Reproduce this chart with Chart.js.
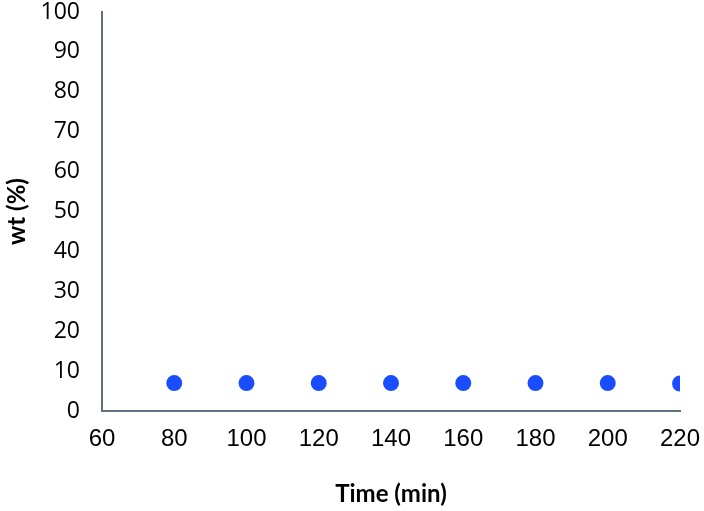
<!DOCTYPE html>
<html>
<head>
<meta charset="utf-8">
<script src="https://cdn.jsdelivr.net/npm/chart.js@4.4.0/dist/chart.umd.min.js"></script>
<style>
  html, body { margin: 0; padding: 0; background: #fff; }
  #wrap { width: 704px; height: 511px; }
</style>
</head>
<body>
<div id="wrap"><canvas id="chart" width="704" height="511"></canvas></div>
<script>
// sampling times and measured wt%
var times = [80, 100, 120, 140, 160, 180, 200, 220];
var wt = [7, 7, 7, 7, 7, 7, 7, 6.9];

var axisColor = '#5f717c';

var points = times.map(function (t, i) { return { x: t, y: wt[i] }; });

var config = {
  type: 'scatter',
  data: {
    datasets: [{
      data: points,
      backgroundColor: '#1a4dff',
      borderColor: '#1a4dff',
      pointRadius: 8,
      pointHoverRadius: 8,
      borderWidth: 0
    }]
  },
  options: {
    responsive: false,
    animation: false,
    layout: { padding: { top: 12, right: 24, bottom: 2, left: 0 } },
    plugins: {
      legend: { display: false },
      tooltip: { enabled: false }
    },
    scales: {
      x: {
        type: 'linear',
        min: 60,
        max: 220,
        grid: { display: false, drawTicks: false },
        border: { display: true, color: axisColor, width: 2 },
        ticks: {
          stepSize: 20,
          color: '#000',
          padding: 14,
          maxRotation: 0,
          font: { family: 'Liberation Sans', size: 24 }
        },
        title: {
          display: true,
          text: 'Time (min)',
          color: '#000',
          padding: { top: 0, bottom: 0 },
          font: { family: 'Lato', size: 24, weight: 'bold' }
        },
        afterFit: function (scale) {
          scale.height = 98;
          scale.paddingLeft = 0;
          scale.paddingRight = 0;
        }
      },
      y: {
        min: 0,
        max: 100,
        grid: { display: false, drawTicks: false },
        border: { display: true, color: axisColor, width: 2 },
        ticks: {
          stepSize: 10,
          color: '#000',
          padding: 22,
          font: { family: 'Open Sans', size: 23 }
        },
        title: {
          display: true,
          text: 'wt (%)',
          color: '#000',
          padding: { top: 3, bottom: 0 },
          font: { family: 'Lato', size: 24, weight: 'bold' }
        },
        afterFit: function (scale) {
          scale.width = 102;
          scale.paddingTop = 0;
          scale.paddingBottom = 0;
        }
      }
    }
  }
};

window.onload = function () {
  var ctx = document.getElementById('chart').getContext('2d');
  window.myChart = new Chart(ctx, config);
};
</script>
</body>
</html>
